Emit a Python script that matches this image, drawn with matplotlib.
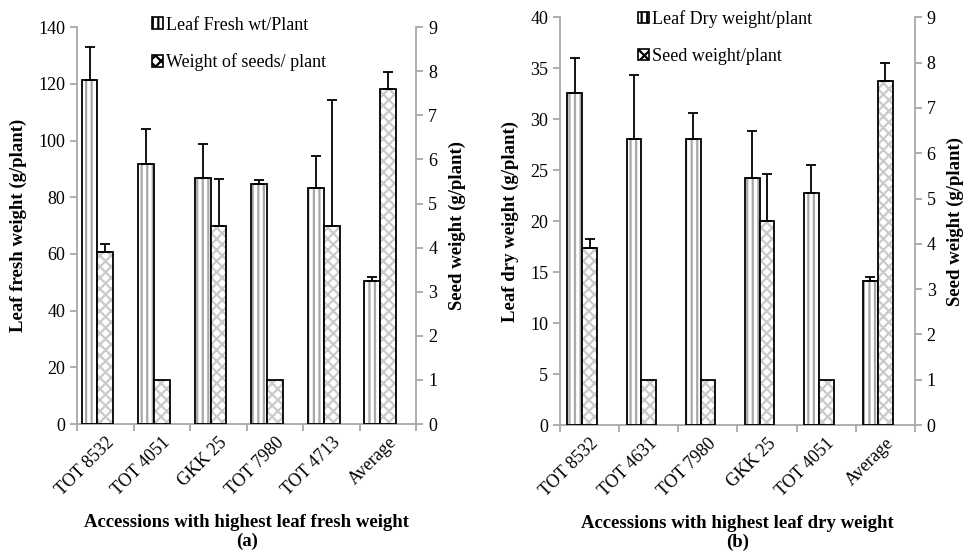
import numpy as np
import matplotlib
matplotlib.use("Agg")
import matplotlib.pyplot as plt
from matplotlib.patches import Patch

plt.rcParams["font.family"] = ["Liberation Serif", "DejaVu Serif"]
plt.rcParams["hatch.linewidth"] = 1.6

# panel (a)
cats_a = ["TOT 8532", "TOT 4051", "GKK 25", "TOT 7980", "TOT 4713", "Average"]
fresh_a = [121.2, 91.6, 86.9, 84.6, 83.3, 50.5]
fresh_err_a = [11.8, 12.6, 12.0, 1.4, 11.2, 1.4]
seed_a = [3.9, 1.0, 4.5, 1.0, 4.5, 7.6]
seed_err_a = [0.19, 0.0, 1.06, 0.0, 2.85, 0.38]

# panel (b)
cats_b = ["TOT 8532", "TOT 4631", "TOT 7980", "GKK 25", "TOT 4051", "Average"]
dry_b = [32.6, 28.1, 28.1, 24.2, 22.8, 14.1]
dry_err_b = [3.4, 6.2, 2.5, 4.6, 2.7, 0.38]
seed_b = [3.9, 1.0, 1.0, 4.5, 1.0, 7.6]
seed_err_b = [0.2, 0.0, 0.0, 1.05, 0.0, 0.38]

GRAY = "#a8a8a8"


def hatched_bars(ax, x, h, w, hatch, hcolor):
    ax.bar(x, h, w, color="white", edgecolor=hcolor, hatch=hatch, linewidth=0, zorder=2)
    ax.bar(x, h, w, fill=False, edgecolor="black", linewidth=1.3, zorder=3)


def up_errors(ax, x, y, err):
    x = np.asarray(x)
    y = np.asarray(y)
    err = np.asarray(err)
    m = err > 0
    ax.errorbar(x[m], y[m], yerr=[np.zeros(m.sum()), err[m]], fmt="none",
                ecolor="black", elinewidth=1.3, capsize=3.5, capthick=1.3, zorder=4)


def panel(rect, cats, main, main_err, seed, seed_err, ymax, ystep, width,
          ylabel, xlabel, leg_labels, leg_anchor):
    ax = fig.add_axes(rect)
    ax2 = ax.twinx()
    x = np.arange(len(cats))

    # leaf bars sit left of the seed bars, seed bars are centred on the category
    hatched_bars(ax, x - width, main, width, "|||", GRAY)
    up_errors(ax, x - width, main, main_err)
    hatched_bars(ax2, x, seed, width, "xxx", "#cacaca")
    up_errors(ax2, x, seed, seed_err)

    ax.set_xlim(-0.5, len(cats) - 0.5)
    ax.set_ylim(0, ymax)
    ax.set_yticks(np.arange(0, ymax + 0.1, ystep))
    ax2.set_ylim(0, 9)
    ax2.set_yticks(range(0, 10))

    ax.set_xticks(np.arange(len(cats) + 1) - 0.5)
    ax.set_xticklabels([])
    ax.set_xticks(x, minor=True)
    ax.set_xticklabels(cats, minor=True, rotation=45, ha="right",
                       rotation_mode="anchor", fontsize=13)
    ax.tick_params(axis="x", which="minor", length=0, pad=7)
    ax.tick_params(axis="x", which="major", length=5, color=GRAY, width=1.3)

    for a in (ax, ax2):
        for s in a.spines.values():
            s.set_visible(False)
        a.tick_params(axis="y", labelsize=13, length=5, color=GRAY, width=1.3)
    for s in (ax.spines["left"], ax.spines["bottom"], ax2.spines["right"]):
        s.set_visible(True)
        s.set_color(GRAY)
        s.set_linewidth(1.3)

    ax.set_ylabel(ylabel, fontsize=13.5, fontweight="bold", labelpad=8)
    ax2.set_ylabel("Seed weight (g/plant)", fontsize=13.5, fontweight="bold", labelpad=8)
    ax.set_xlabel(xlabel, fontsize=13.5, fontweight="bold", labelpad=11, linespacing=1.15)

    handles = [Patch(facecolor="white", edgecolor="black", hatch="|||", linewidth=1.2),
               Patch(facecolor="white", edgecolor="black", hatch="xxx", linewidth=1.2)]
    ax.legend(handles, leg_labels, loc="upper left", bbox_to_anchor=leg_anchor,
              frameon=False, fontsize=13, handlelength=0.6, handleheight=0.6,
              handletextpad=0.15, labelspacing=1.1, borderaxespad=0)
    return ax, ax2


fig = plt.figure(figsize=(9.64, 5.55), dpi=100)

panel([0.080, 0.236, 0.352, 0.715], cats_a, fresh_a, fresh_err_a, seed_a, seed_err_a,
      140, 20, 0.28, "Leaf fresh weight (g/plant)",
      "Accessions with highest leaf fresh weight\n(a)",
      ["Leaf Fresh wt/Plant", "Weight of seeds/ plant"], (0.2, 1.045))

panel([0.581, 0.234, 0.368, 0.735], cats_b, dry_b, dry_err_b, seed_b, seed_err_b,
      40, 5, 0.25, "Leaf dry weight (g/plant)",
      "Accessions with highest leaf dry weight\n(b)",
      ["Leaf Dry weight/plant", "Seed weight/plant"], (0.2, 1.035))

fig.savefig("out.png", dpi=100)
